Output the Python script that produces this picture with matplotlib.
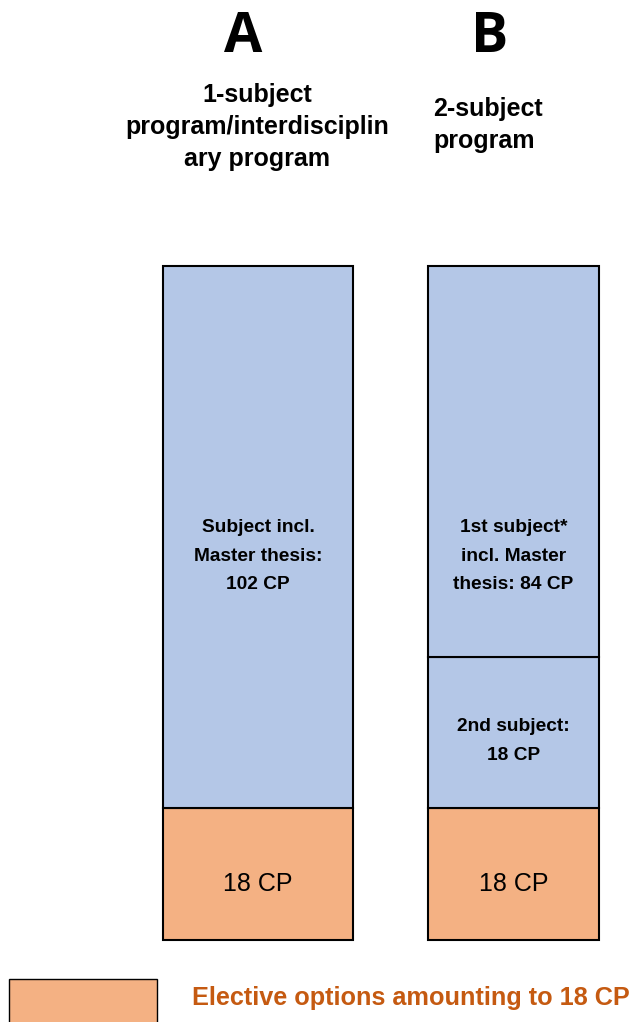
import matplotlib
matplotlib.use("Agg")
import matplotlib.pyplot as plt
from matplotlib.patches import Rectangle

# ---- data ----
programs = ["A", "B"]
program_titles = ["1-subject\nprogram/interdisciplin\nary program", "2-subject\nprogram"]
# segments bottom -> top, credit points
segment_cp_A = [18, 102]
segment_cp_B = [18, 18, 84]
segment_labels_A = ["18 CP", "Subject incl.\nMaster thesis:\n102 CP"]
segment_labels_B = ["18 CP", "2nd subject:\n18 CP", "1st subject*\nincl. Master\nthesis: 84 CP"]
# drawn block heights as they appear in the diagram (not proportional to CP)
segment_heights_A = [132, 542]
segment_heights_B = [132, 151, 391]
legend_label = "Elective options amounting to 18 CP"

BLUE = "#B4C7E7"
ORANGE = "#F4B183"
LEGEND_TXT = "#C55A11"

W, H = 633, 1022
fig = plt.figure(figsize=(W / 100, H / 100), dpi=100)
ax = fig.add_axes([0, 0, 1, 1])
ax.set_xlim(0, W)
ax.set_ylim(0, H)
ax.axis("off")

def Y(py):
    return H - py

base = Y(940)
bar_x = [258, 513.5]
bar_w = [190, 171]

def draw_stack(x, w, heights, cps, labels):
    bottom = base
    for i, (h, cp, lab) in enumerate(zip(heights, cps, labels)):
        color = ORANGE if i == 0 else BLUE
        ax.bar(x, h, width=w, bottom=bottom, color=color, edgecolor="black",
               linewidth=1.5, zorder=2)
        bottom += h

draw_stack(bar_x[0], bar_w[0], segment_heights_A, segment_cp_A, segment_labels_A)
draw_stack(bar_x[1], bar_w[1], segment_heights_B, segment_cp_B, segment_labels_B)

# orange segment labels
for x, lab in zip(bar_x, [segment_labels_A[0], segment_labels_B[0]]):
    ax.text(x, Y(884), lab, ha="center", va="center", fontsize=18,
            family="Liberation Sans", zorder=3)

# inner bold labels
bold_kw = dict(ha="center", va="center", fontsize=13.8, fontweight="bold",
               family="Liberation Sans", linespacing=1.85, zorder=3)
ax.text(bar_x[0], Y(556), segment_labels_A[1], **bold_kw)
ax.text(bar_x[1], Y(556), segment_labels_B[2], **bold_kw)
ax.text(bar_x[1], Y(741), segment_labels_B[1], **bold_kw)

# headers
ax.text(243, Y(37), programs[0], ha="center", va="center", fontsize=40,
        fontweight="bold", family="Open Sans")
ax.text(490, Y(37), programs[1], ha="center", va="center", fontsize=40,
        fontweight="bold", family="Open Sans")
ax.text(257, Y(127), program_titles[0], ha="center", va="center", fontsize=18,
        fontweight="bold", family="Liberation Sans", linespacing=1.4)
ax.text(433, Y(125), program_titles[1], ha="left", va="center", fontsize=18,
        fontweight="bold", family="Liberation Sans", linespacing=1.4)

# legend
ax.add_patch(Rectangle((9, Y(1030)), 148, 1030 - 979, facecolor=ORANGE,
                       edgecolor="black", linewidth=1.0))
ax.text(192, Y(998), legend_label, ha="left", va="center", fontsize=18.2,
        fontweight="bold", family="Liberation Sans", color=LEGEND_TXT)

fig.savefig("out.png", dpi=100)
